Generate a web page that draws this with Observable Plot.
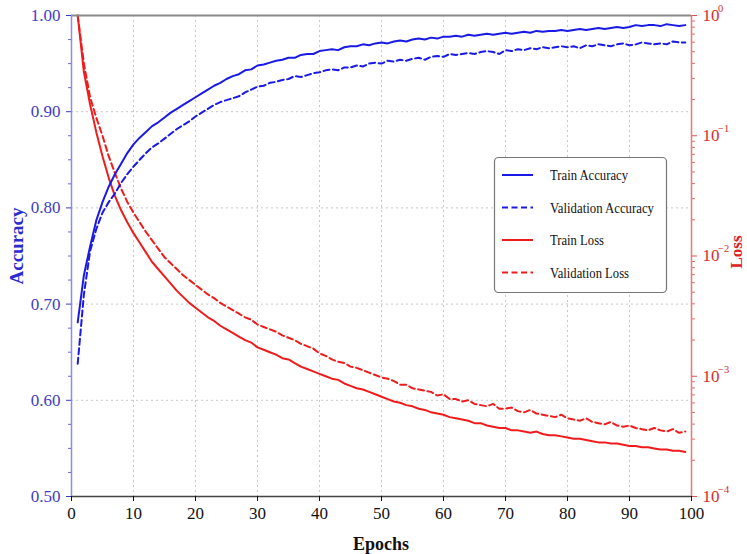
<!DOCTYPE html>
<html><head><meta charset="utf-8">
<script src="https://cdn.jsdelivr.net/npm/d3@7"></script>
<script src="https://cdn.jsdelivr.net/npm/@observablehq/plot@0.6"></script>
<style>body{margin:0;background:#fff}</style>
</head><body><div id="chart"></div>
<script>
// ---- data ----
const epochs = d3.range(1, 100);
const trainAcc = [0.681,0.730,0.760,0.787,0.806,0.822,0.835,0.846,0.857,0.866,
0.873,0.879,0.885,0.889,0.894,0.899,0.903,0.907,0.911,0.915,
0.919,0.923,0.927,0.930,0.934,0.937,0.939,0.943,0.944,0.948,
0.949,0.951,0.953,0.954,0.956,0.956,0.959,0.960,0.960,0.963,
0.964,0.965,0.964,0.967,0.968,0.968,0.970,0.969,0.971,0.972,
0.971,0.973,0.974,0.973,0.975,0.976,0.975,0.977,0.976,0.978,
0.978,0.979,0.978,0.980,0.979,0.980,0.981,0.980,0.981,0.982,
0.981,0.982,0.983,0.982,0.984,0.983,0.984,0.984,0.985,0.984,
0.985,0.986,0.985,0.986,0.987,0.986,0.987,0.988,0.987,0.988,
0.990,0.989,0.990,0.990,0.989,0.991,0.990,0.989,0.990];
const valAcc = [0.638,0.710,0.755,0.778,0.795,0.806,0.815,0.826,0.835,0.843,
0.850,0.857,0.863,0.867,0.872,0.877,0.882,0.886,0.890,0.895,
0.899,0.903,0.907,0.910,0.912,0.914,0.916,0.920,0.923,0.926,
0.927,0.930,0.931,0.933,0.934,0.937,0.936,0.938,0.940,0.941,
0.943,0.944,0.943,0.946,0.946,0.948,0.947,0.950,0.951,0.950,
0.953,0.952,0.954,0.953,0.955,0.956,0.954,0.957,0.958,0.957,
0.960,0.959,0.960,0.961,0.960,0.962,0.963,0.962,0.960,0.964,
0.963,0.965,0.964,0.966,0.965,0.967,0.966,0.967,0.968,0.967,
0.968,0.966,0.969,0.968,0.970,0.969,0.968,0.970,0.971,0.969,
0.970,0.972,0.971,0.970,0.971,0.970,0.973,0.972,0.972];
// loss values given as log10(loss)
const trainLossLog10 = [0.00,-0.47,-0.74,-0.97,-1.17,-1.35,-1.50,-1.62,-1.72,-1.81,
-1.89,-1.97,-2.05,-2.11,-2.17,-2.23,-2.29,-2.34,-2.39,-2.43,
-2.47,-2.51,-2.54,-2.58,-2.61,-2.64,-2.67,-2.70,-2.72,-2.76,
-2.78,-2.80,-2.82,-2.85,-2.86,-2.89,-2.92,-2.94,-2.96,-2.98,
-3.00,-3.02,-3.03,-3.06,-3.08,-3.10,-3.11,-3.13,-3.15,-3.17,
-3.19,-3.21,-3.22,-3.24,-3.25,-3.27,-3.28,-3.30,-3.31,-3.32,
-3.34,-3.35,-3.36,-3.37,-3.39,-3.39,-3.41,-3.42,-3.43,-3.43,
-3.45,-3.45,-3.46,-3.47,-3.46,-3.48,-3.49,-3.49,-3.50,-3.51,
-3.52,-3.52,-3.53,-3.54,-3.55,-3.55,-3.56,-3.56,-3.57,-3.58,
-3.58,-3.59,-3.59,-3.60,-3.61,-3.61,-3.62,-3.62,-3.63];
const valLossLog10 = [0.00,-0.40,-0.68,-0.85,-1.00,-1.17,-1.31,-1.44,-1.55,-1.64,
-1.72,-1.80,-1.87,-1.94,-2.01,-2.06,-2.11,-2.16,-2.20,-2.24,
-2.28,-2.32,-2.35,-2.39,-2.42,-2.45,-2.48,-2.51,-2.53,-2.57,
-2.59,-2.61,-2.63,-2.66,-2.68,-2.70,-2.73,-2.75,-2.77,-2.81,
-2.83,-2.86,-2.88,-2.89,-2.92,-2.93,-2.95,-2.97,-2.99,-3.01,
-3.02,-3.04,-3.07,-3.07,-3.10,-3.11,-3.12,-3.13,-3.16,-3.15,
-3.19,-3.19,-3.21,-3.20,-3.23,-3.24,-3.25,-3.23,-3.27,-3.27,
-3.26,-3.29,-3.30,-3.28,-3.31,-3.32,-3.33,-3.34,-3.32,-3.35,
-3.36,-3.37,-3.35,-3.38,-3.39,-3.40,-3.38,-3.41,-3.42,-3.41,
-3.43,-3.44,-3.45,-3.43,-3.45,-3.46,-3.44,-3.47,-3.46];

const xTicks = [0,10,20,30,40,50,60,70,80,90,100];
const accTicks = [0.50,0.60,0.70,0.80,0.90,1.00];
const lossExponents = [0,-1,-2,-3,-4];
const seriesNames = ["Train Accuracy","Validation Accuracy","Train Loss","Validation Loss"];

// ---- styling ----
const BLUE = "#1a1ae6", RED = "#f01c1c";
const FONT = "Liberation Serif, Times New Roman, serif";

// map log10(loss) on [-4,0] onto the accuracy axis [0.5,1.0]
const lossToY = l => 1 + l / 8;

const rows = epochs.map((e, i) => ({
  e, ta: trainAcc[i], va: valAcc[i],
  tl: lossToY(trainLossLog10[i]), vl: lossToY(valLossLog10[i])
}));

const accMinor = [];
for (let i = 0; i < accTicks.length - 1; i++)
  for (let k = 1; k < 4; k++) accMinor.push(accTicks[i] + k * 0.025);
const lossMinor = [];
for (const d of [-4,-3,-2,-1])
  for (let k = 2; k <= 9; k++) lossMinor.push(lossToY(d + Math.log10(k)));

const chart = Plot.plot({
  width: 747, height: 554,
  marginLeft: 71, marginRight: 56, marginTop: 15, marginBottom: 58,
  style: {fontFamily: FONT, fontSize: "17px", background: "#fff", color: "#111"},
  x: {domain: [0, 100]},
  y: {domain: [0.5, 1.0]},
  marks: [
    Plot.gridX(xTicks.slice(1, -1), {stroke: "#c8c8c8", strokeOpacity: 1, strokeDasharray: "2,3"}),
    Plot.gridY(accTicks.slice(1, -1), {stroke: "#c8c8c8", strokeOpacity: 1, strokeDasharray: "2,3"}),
    Plot.lineY(rows, {x: "e", y: "tl", stroke: RED, strokeWidth: 2}),
    Plot.lineY(rows, {x: "e", y: "vl", stroke: RED, strokeWidth: 2, strokeDasharray: "6,3.5"}),
    Plot.lineY(rows, {x: "e", y: "ta", stroke: BLUE, strokeWidth: 2}),
    Plot.lineY(rows, {x: "e", y: "va", stroke: BLUE, strokeWidth: 2, strokeDasharray: "6,3.5"}),
    Plot.ruleY([1.0], {stroke: "#8a8a8a", strokeWidth: 2}),
    Plot.ruleY([0.5], {stroke: "#444", strokeWidth: 1.5}),
    Plot.ruleX([0], {stroke: "#8a8af5", strokeWidth: 1.5}),
    Plot.ruleX([100], {stroke: "#e57a7a", strokeWidth: 1.5}),
    Plot.axisX({ticks: xTicks, tickFormat: d => String(d), label: null, tickSize: 5, tickPadding: 5, color: "#111"}),
    Plot.axisY({ticks: accTicks, tickFormat: d => d.toFixed(2), label: null, tickSize: 5, tickPadding: 6, color: "#3c3cc8"}),
    Plot.axisY({ticks: accMinor, tickFormat: () => "", label: null, tickSize: 3, color: "#6a6ad8"}),
    Plot.axisY({anchor: "right", ticks: lossExponents.map(lossToY), tickFormat: () => "", label: null, tickSize: 5, color: "#e05050"}),
    Plot.axisY({anchor: "right", ticks: lossMinor, tickFormat: () => "", label: null, tickSize: 3, color: "#e07070"}),
    Plot.text(lossExponents, {x: 100, y: d => lossToY(d), text: () => "10", textAnchor: "start", dx: 11, fill: "#dd2a2a", fontSize: 17}),
    Plot.text(lossExponents, {x: 100, y: d => lossToY(d), text: d => (d < 0 ? "\u2212" : "") + Math.abs(d), textAnchor: "start", dx: 26.5, dy: -7, fill: "#dd2a2a", fontSize: 10.5})
  ]
});
document.getElementById("chart").appendChild(chart);

// ---- axis titles and legend ----
const svg = d3.select(chart);
svg.append("text").attr("transform", "translate(23,246) rotate(-90)")
  .attr("text-anchor", "middle").attr("font-family", FONT).attr("font-weight", "bold")
  .attr("font-size", 19).attr("fill", "#2a2ad0").text("Accuracy");
svg.append("text").attr("x", 381).attr("y", 550)
  .attr("text-anchor", "middle").attr("font-family", FONT).attr("font-weight", "bold")
  .attr("font-size", 18).attr("fill", "#111").text("Epochs");
svg.append("text").attr("transform", "translate(742,252) rotate(-90)")
  .attr("text-anchor", "middle").attr("font-family", FONT).attr("font-weight", "bold")
  .attr("font-size", 17).attr("fill", "#dd2020").text("Loss");

const lg = svg.append("g").attr("font-family", FONT).attr("font-size", 15).attr("text-anchor", "start");
lg.append("rect").attr("x", 494.5).attr("y", 157.5).attr("width", 172).attr("height", 135)
  .attr("rx", 4).attr("fill", "#fff").attr("stroke", "#777").attr("stroke-width", 1.2);
const legendStyles = [
  {c: BLUE, d: null, w: 78}, {c: BLUE, d: "6,3.5", w: 104}, {c: RED, d: null, w: 54}, {c: RED, d: "6,3.5", w: 79}
];
seriesNames.forEach((name, i) => {
  const y = 175 + i * 32.5;
  lg.append("line").attr("x1", 502).attr("x2", 533).attr("y1", y).attr("y2", y)
    .attr("stroke", legendStyles[i].c).attr("stroke-width", 2)
    .attr("stroke-dasharray", legendStyles[i].d);
  lg.append("text").attr("x", 550).attr("y", y).attr("dy", "0.35em")
    .attr("text-anchor", "start").attr("fill", "#111")
    .attr("textLength", legendStyles[i].w).attr("lengthAdjust", "spacingAndGlyphs").text(name);
});
</script></body></html>
